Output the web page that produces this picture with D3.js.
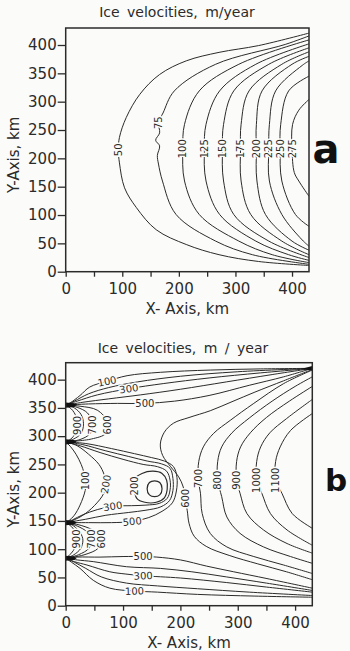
<!DOCTYPE html>
<html>
<head>
<meta charset="utf-8">
<script src="https://cdn.jsdelivr.net/npm/d3@7"></script>
<style>
body { margin: 0; background: #fbfbf9; }
svg { display: block; font-family: "DejaVu Sans", sans-serif; }
</style>
</head>
<body>
<div id="chart"></div>
<script>
// axis ticks (km)
const xTicks = [0, 50, 100, 150, 200, 250, 300, 350, 400];
const yTicks = [0, 50, 100, 150, 200, 250, 300, 350, 400];
const domainKm = [0, 430];

// ---- panel a: contour levels and traced lines (km) ----
const levelsA = [50, 75, 100, 125, 150, 175, 200, 225, 250, 275];
const linesA = [
  [[430,421],[341,399],[271,387],[213,372],[166,348],[131,313],[107,272],[95,237],[93,215],[95,192],[104,148],[125,113],[160,74],[213,48],[271,30],[341,18],[430,11]],
  [[430,416],[388,401],[265,366],[192,319],[172,280],[164,263],[166,245],[159,232],[166,222],[162,205],[164,190],[171,160],[195,101],[265,54],[330,30],[430,13]],
  [[430,409],[306,366],[236,319],[210,260],[207,217],[210,160],[236,101],[306,54],[365,30],[430,16]],
  [[430,402],[336,366],[272,319],[248,260],[245,217],[248,160],[272,101],[336,54],[394,30],[430,20]],
  [[430,395],[359,366],[297,319],[279,260],[277,217],[279,160],[297,101],[359,54],[430,25]],
  [[430,388],[382,366],[324,319],[310,260],[309,217],[310,160],[327,101],[382,54],[430,30]],
  [[430,380],[400,366],[347,319],[337,260],[337,217],[338,160],[353,101],[400,54],[430,38]],
  [[430,372],[418,364],[371,319],[360,260],[359,217],[360,160],[382,101],[418,56],[430,45]],
  [[430,345],[394,319],[380,260],[379,217],[382,160],[406,101],[430,80]],
  [[430,304],[412,285],[401,260],[400,217],[404,175],[412,160],[430,133]]
];
const labelPosA = [[93,215],[164,263],[207,217],[245,217],[277,217],[309,217],[337,217],[359,217],[379,217],[400,217]];

// ---- panel b: traced lines (km) ----
const sourcesB = [355, 290, 147, 84];
const fanTopB = [
  [[0,355],[8,359],[25,372],[42,387],[72,397],[107,407],[165,413],[252,417],[339,419],[430,420]],
  [[0,355],[15,362],[40,375],[75,386],[125,396],[200,406],[300,414],[430,420]],
  [[0,355],[20,362],[55,373],[110,384],[170,393],[250,403],[340,412],[430,420]],
  [[0,355],[30,360],[75,366],[130,373],[200,383],[280,396],[360,409],[430,420]],
  [[0,355],[40,357],[90,358],[138,358],[190,362],[250,372],[320,390],[380,405],[430,420]]
];
const loopsUpperB = [
  [[0,355],[10,348],[18,335],[20,320],[17,305],[9,295],[0,290]],
  [[0,355],[15,350],[27,338],[31,322],[27,305],[14,295],[0,290]],
  [[0,355],[20,351],[38,341],[47,322],[43,305],[25,294],[0,290]],
  [[0,355],[25,353],[55,346],[73,325],[70,305],[45,295],[0,290]]
];
const middleB = [
  [[0,290],[8,282],[18,268],[27,250],[32,235],[35,221],[34,204],[25,178],[15,160],[5,150],[0,147]],
  [[0,290],[20,283],[40,268],[58,250],[67,232],[70,215],[66,198],[50,177],[30,160],[10,150],[0,147]],
  [[0,290],[25,283],[60,271],[100,259],[135,250],[160,246],[176,238],[182,222],[182,205],[177,190],[163,181],[140,178],[115,177],[82,176],[55,170],[30,161],[12,152],[0,147]],
  [[0,290],[30,285],[70,274],[110,264],[142,256],[167,251],[182,243],[187,225],[187,204],[181,186],[166,175],[140,169],[110,165],[70,160],[35,153],[0,147]],
  [[0,290],[35,287],[80,278],[120,269],[150,262],[172,256],[188,246],[194,227],[193,203],[186,182],[168,167],[145,156],[116,149],[80,147],[40,147],[0,147]]
];
const closedB = [
  [[120,224],[133,234],[152,238],[168,234],[176,222],[177,206],[172,191],[158,183],[138,183],[124,190],[119,212]],
  [[142,207],[146,218],[155,221],[164,218],[168,207],[164,196],[155,193],[146,196]]
];
const rightB = [
  [[430,418],[380,398],[330,378],[290,361],[252,345],[215,333],[188,323],[172,307],[165,286],[169,266],[183,246],[197,228],[205,210],[208,190],[212,168],[215,146],[224,123],[245,105],[285,89],[335,74],[385,60],[430,46]],
  [[430,417],[380,393],[328,358],[287,328],[258,305],[240,281],[232,255],[231,225],[235,199],[238,163],[252,128],[281,104],[328,87],[380,72],[430,57]],
  [[430,405],[400,388],[360,362],[320,332],[290,306],[272,281],[265,255],[265,222],[272,193],[281,157],[304,128],[345,104],[392,87],[430,75]],
  [[430,388],[390,362],[350,333],[322,306],[305,281],[298,255],[298,222],[304,199],[316,163],[345,134],[386,110],[430,93]],
  [[430,365],[385,331],[356,306],[340,281],[333,255],[333,222],[342,199],[357,163],[386,134],[430,107]],
  [[430,340],[392,310],[374,281],[366,255],[366,222],[377,199],[395,163],[430,137]]
];
const fanBottomB = [
  [[0,84],[20,86],[60,86],[100,87],[135,87],[159,86],[200,81],[246,70],[293,60],[351,48],[430,31]],
  [[0,84],[20,81],[48,78],[106,69],[165,66],[220,60],[280,51],[350,40],[430,27]],
  [[0,84],[15,78],[37,72],[77,60],[105,56],[135,53],[200,49],[280,41],[350,33],[430,24]],
  [[0,84],[15,77],[35,66],[62,51],[106,40],[160,35],[230,30],[320,24],[430,18]],
  [[0,84],[10,77],[25,66],[48,45],[77,31],[120,26],[160,24],[230,20],[330,17],[430,15]]
];
const loopsLowerB = [
  [[0,147],[10,140],[18,128],[20,118],[17,104],[9,92],[0,84]],
  [[0,147],[14,141],[26,128],[30,116],[26,101],[14,90],[0,84]],
  [[0,147],[20,141],[38,130],[45,118],[41,102],[22,90],[0,84]],
  [[0,147],[27,142],[52,131],[62,118],[57,102],[32,90],[0,84]]
];
// [text, x km, y km, rotation]
const labelsB = [
  ['100',72,397,-12],['300',110,384,-8],['500',138,358,0],
  ['900',20,319,-90],['700',47,320,-90],['600',73,320,-90],
  ['100',35,221,-90],['200',70,215,-80],['200',119,212,-90],['300',82,176,-8],['500',116,149,-5],
  ['900',19,118,-90],['700',45,118,-90],['600',62,118,-90],
  ['500',135,87,0],['300',135,53,-3],['100',120,26,-2],
  ['600',208,190,-90],['700',231,225,-90],['800',265,222,-90],['900',298,222,-90],['1000',333,222,-90],['1100',366,222,-90]
];
const cornerBlobB = [[410,419],[430,424],[430,416]];

const svg = d3.select('#chart').append('svg')
  .attr('width', 350).attr('height', 651);

const ink = '#2b2b2b';
const bg = '#fbfbf9';

function drawPanel(p) {
  const x = d3.scaleLinear().domain(domainKm).range([p.left, p.right]);
  const y = d3.scaleLinear().domain(domainKm).range([p.bottom, p.top]);
  const g = svg.append('g');

  g.append('clipPath').attr('id', 'clip' + p.name)
    .append('rect')
    .attr('x', p.left).attr('y', p.top)
    .attr('width', p.right - p.left).attr('height', p.bottom - p.top);

  const line = d3.line().x(d => x(d[0])).y(d => y(d[1])).curve(d3.curveCatmullRom.alpha(0.5));
  const loop = d3.line().x(d => x(d[0])).y(d => y(d[1])).curve(d3.curveCatmullRomClosed.alpha(0.5));

  const cg = g.append('g').attr('clip-path', 'url(#clip' + p.name + ')');
  cg.selectAll('path.open').data(p.open).join('path')
    .attr('class', 'open')
    .attr('d', line)
    .attr('fill', 'none').attr('stroke', ink).attr('stroke-width', 1);
  cg.selectAll('path.closed').data(p.closed || []).join('path')
    .attr('class', 'closed')
    .attr('d', loop)
    .attr('fill', 'none').attr('stroke', ink).attr('stroke-width', 1.2);

  if (p.sources) {
    cg.selectAll('path.src').data(p.sources).join('path')
      .attr('class', 'src')
      .attr('transform', d => `translate(${x(0)},${y(d)})`)
      .attr('d', 'M0,-2.6L8,-1.8L11,0L8,1.8L0,2.6Z')
      .attr('fill', '#111');
  }
  if (p.blob) {
    cg.append('path')
      .attr('d', d3.line().x(d => x(d[0])).y(d => y(d[1]))(p.blob) + 'Z')
      .attr('fill', '#111');
  }

  g.selectAll('text.lbl').data(p.labels).join('text')
    .attr('class', 'lbl')
    .attr('transform', d => `translate(${x(d[1])},${y(d[2])}) rotate(${d[3]})`)
    .attr('text-anchor', 'middle')
    .attr('dy', '0.36em')
    .attr('font-size', 10)
    .attr('fill', ink)
    .attr('stroke', bg).attr('stroke-width', 3)
    .attr('paint-order', 'stroke')
    .text(d => d[0]);

  g.append('rect')
    .attr('x', p.left).attr('y', p.top)
    .attr('width', p.right - p.left).attr('height', p.bottom - p.top)
    .attr('fill', 'none').attr('stroke', ink).attr('stroke-width', 1.5);

  const xa = g.append('g').attr('transform', `translate(0,${p.bottom})`)
    .call(d3.axisBottom(x).tickValues(xTicks).tickSize(5).tickPadding(7)
      .tickFormat(d => d % 100 === 0 ? d : ''));
  const ya = g.append('g').attr('transform', `translate(${p.left},0)`)
    .call(d3.axisLeft(y).tickValues(yTicks).tickSize(8).tickPadding(1));
  [xa, ya].forEach(a => {
    a.select('.domain').remove();
    a.selectAll('line').attr('stroke', ink).attr('stroke-width', 1.3);
    a.selectAll('text').attr('font-size', 15).attr('fill', ink)
      .attr('font-family', '"DejaVu Sans", sans-serif');
  });

  g.append('text')
    .attr('x', p.titleX).attr('y', p.titleY)
    .attr('text-anchor', 'middle').attr('font-size', 14).attr('fill', ink)
    .attr('word-spacing', 3)
    .text(p.title);
  g.append('text')
    .attr('x', (p.left + p.right) / 2).attr('y', p.bottom + 42)
    .attr('text-anchor', 'middle').attr('font-size', 15).attr('fill', ink)
    .text('X- Axis, km');
  g.append('text')
    .attr('transform', `translate(19,${(p.top + p.bottom) / 2 + 5}) rotate(-90)`)
    .attr('text-anchor', 'middle').attr('font-size', 15).attr('fill', ink)
    .text('Y-Axis, km');
  g.append('text')
    .attr('x', p.tagX).attr('y', p.tagY)
    .attr('text-anchor', 'middle').attr('font-weight', 'bold')
    .attr('font-size', p.tagSize).attr('fill', '#111')
    .text(p.tag);
}

drawPanel({
  name: 'a', left: 65.7, top: 28, right: 309, bottom: 271.7,
  open: linesA,
  labels: levelsA.map((v, i) => [String(v), labelPosA[i][0], labelPosA[i][1], -90]),
  title: 'Ice velocities, m/year', titleX: 177, titleY: 17,
  tag: 'a', tagX: 326, tagY: 163, tagSize: 40
});

drawPanel({
  name: 'b', left: 65.7, top: 362.7, right: 312.3, bottom: 605.7,
  open: [].concat(fanTopB, loopsUpperB, middleB, rightB, fanBottomB, loopsLowerB),
  closed: closedB,
  sources: sourcesB,
  blob: cornerBlobB,
  labels: labelsB,
  title: 'Ice velocities, m / year', titleX: 183, titleY: 353,
  tag: 'b', tagX: 336, tagY: 491, tagSize: 31
});
</script>
</body>
</html>
